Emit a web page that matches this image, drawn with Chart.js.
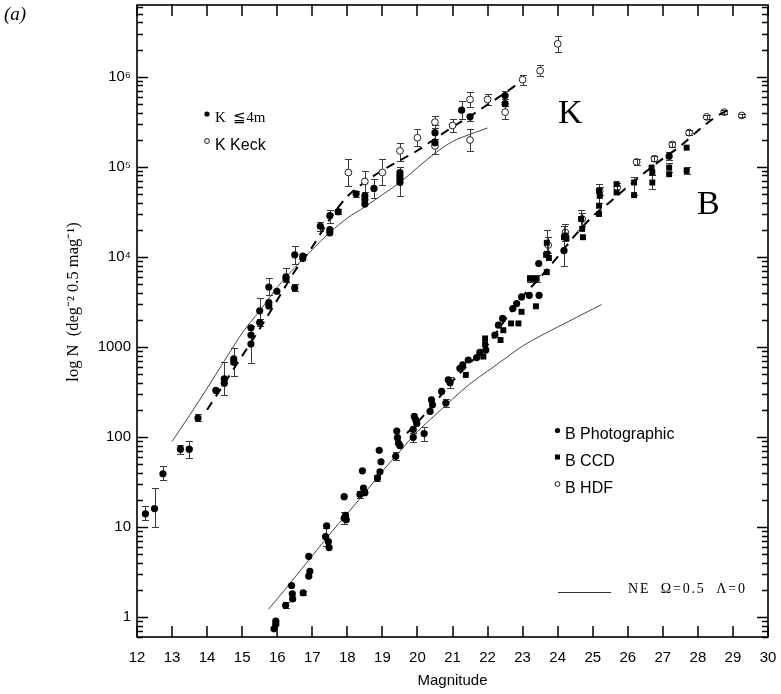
<!DOCTYPE html>
<html><head><meta charset="utf-8">
<script src="https://cdn.jsdelivr.net/npm/chart.js@4"></script>
<style>html,body{margin:0;padding:0;background:#fff;}#wrap{width:781px;height:694px;}</style>
</head><body><div id="wrap"><canvas id="c" width="781" height="694"></canvas></div>
<script>
// ---- tick labels ----
const xTickLabels = [12,13,14,15,16,17,18,19,20,21,22,23,24,25,26,27,28,29,30];
const yTickValues = [1,10,100,1000,1e4,1e5,1e6];
const yTickLabels = ['1','10','100','1000','10\u2074','10\u2075','10\u2076'];

// ---- K <= 4m (filled circles) ----
const kMag = [12.24,12.5,12.74,13.24,13.49,13.74,14.25,14.49,14.49,14.76,14.76,15.25,15.25,15.25,15.5,15.5,15.76,15.76,15.76,15.99,16.25,16.25,16.5,16.5,16.73,16.73,17.23,17.5,17.5,17.5,17.74,18.25,18.5,18.5,18.5,18.76,19.5,19.5,19.5,19.5,20.5,20.5,21.26,21.5,22.5,22.5];
const kN   = [14,16,39,73,73,162,328,395,441,734,676,1074,1350,1630,1863,2510,2850,3090,4620,4140,5710,6000,4510,10520,10180,9550,21800,20000,18400,28600,31700,50000,47600,43000,38500,57400,86300,79400,72800,66800,239000,185000,425000,358000,617000,502000];
const kLo  = [12,9.9,33,65,59,151,null,293,null,480,null,660,null,null,1700,1900,null,null,3730,null,5250,null,4140,8330,null,null,19500,null,null,24000,29500,46000,null,null,null,44600,null,null,47200,null,205000,null,335000,321000,560000,null];
const kHi  = [17,27,48,82,91,181,null,676,null,962,null,1683,null,null,2050,3500,null,null,5820,null,7550,null,4940,13300,null,null,24500,null,null,33000,34000,54000,null,null,null,74000,null,null,100000,null,288000,null,533000,390000,700000,null];

// ---- K Keck (open circles) ----
const kkMag = [18.03,18.5,19.0,19.5,20.0,20.5,20.5,21.0,21.5,21.5,22.0,22.5,23.0,23.5,24.0];
const kkN   = [86300,68600,86300,150000,210000,313000,170000,287000,557000,198000,557000,404000,927000,1164000,2317000];
const kkLo  = [61400,51900,62500,116000,170000,271000,140000,243000,462000,150000,490000,335000,816000,1026000,1875000];
const kkHi  = [123000,90000,121000,185000,260000,364000,205000,341000,671000,260000,649000,470000,1052000,1333000,2838000];

// ---- B Photographic (filled circles) ----
const bpMag = [15.91,15.96,15.96,16.24,16.41,16.43,16.44,16.74,16.9,16.93,16.9,17.38,17.41,17.46,17.48,17.91,17.91,17.95,17.97,18.36,18.43,18.46,18.5,18.86,18.91,18.93,18.96,19.38,19.41,19.43,19.46,19.5,19.88,19.88,19.91,19.95,19.98,20.19,20.36,20.4,20.43,20.69,20.81,20.88,20.93,21.21,21.29,21.45,21.69,21.78,21.95,22.21,22.31,22.43,22.72,22.83,22.97,23.19,23.47,23.46,24.18,27.18];
const bpN   = [0.74,0.83,0.90,1.35,2.24,1.81,1.59,1.86,2.84,3.22,4.72,7.8,10.3,6.86,5.9,21.7,12.5,13.5,12.0,23,42,27,24,35,71,41,53,61,116,98,85,80,99,121,169,155,141,109,192,258,227,320,238,430,400,578,630,714,760,870,920,1350,1740,2070,2660,3020,3580,3730,3730,8400,11700,131000];
const bpLo  = [null,null,null,1.25,null,null,null,1.75,null,null,null,6.2,null,null,null,null,10.8,null,null,21,null,null,null,32,null,null,null,55,null,null,null,null,87,null,null,null,null,90,null,null,null,null,215,null,350,null,null,null,null,null,null,null,null,null,null,null,null,null,null,null,null,118000];
const bpHi  = [null,null,null,1.45,null,null,null,1.97,null,null,null,9.8,null,null,null,null,14.6,null,null,25,null,null,null,38,null,null,null,68,null,null,null,null,110,null,null,null,null,130,null,null,null,null,262,null,460,null,null,null,null,null,null,null,null,null,null,null,null,null,null,null,null,146000];

// ---- B CCD (filled squares) ----
const bcMag = [21.38,21.88,21.93,21.93,22.37,22.45,22.67,22.88,22.97,23.21,23.3,23.4,23.38,23.69,23.67,23.69,23.7,23.75,24.18,24.22,24.25,24.67,24.7,24.72,25.18,25.2,25.18,25.18,25.68,25.68,26.18,26.18,26.68,26.7,26.7,27.18,27.18,27.68,27.68];
const bcN   = [488,780,1070,1240,1190,1530,1820,1820,2450,5710,5710,5710,2820,6760,10500,14300,10800,9700,16500,17200,16100,26300,20400,16500,54000,47500,36900,29900,64100,51800,66800,48400,97800,86300,66800,97800,82600,163000,90000];
const bcLo  = [null,null,null,null,null,null,null,null,null,5200,null,5200,null,null,null,11200,null,null,8000,null,null,20000,null,null,40000,null,null,null,null,null,48000,null,null,null,56000,88000,null,null,82000];
const bcHi  = [null,null,null,null,null,null,null,null,null,6300,null,6300,null,null,null,20000,null,null,22200,null,null,33000,null,null,64000,null,null,null,null,null,76000,null,null,null,80000,110000,null,null,99000];

// ---- B HDF (open circles) ----
const bhMag = [23.73,24.22,24.7,25.2,25.7,26.25,26.76,27.27,27.75,28.25,28.75,29.25];
const bhN   = [13500,18600,26300,54000,59000,113000,123000,177000,239000,358000,404000,371000];
const bhLo  = [11000,15000,22000,48000,52000,105000,115000,165000,225000,340000,385000,355000];
const bhHi  = [16500,23000,31000,60000,66000,122000,132000,190000,255000,376000,425000,388000];

// ---- model curves ----
const kDashMag = [14,14.5,15,15.5,16,16.5,17,17.5,18,18.5,19,19.5,20,20.5,21,21.5,22,22.5,23];
const kDashN   = [200,398,794,1585,3311,6918,12882,26303,46774,67608,91201,117490,151356,204174,275423,363078,489779,660693,912011];
const kSolidMag = [13,13.5,14,14.5,15.05,15.5,16,16.5,17,17.5,18,18.5,19,19.5,20,20.5,21,21.5,22];
const kSolidN   = [89,174,347,708,1514,2512,4571,7586,12023,18621,26915,35892,48978,66834,97724,141254,190546,229087,269153];
const bDashMag = [19.7,20,20.5,21,21.5,22,22.5,23,23.5,24,24.5,25,25.5,26,26.5,27,27.5,28,28.5,29];
const bDashN   = [110,145,240,417,661,1047,1995,3631,5888,10000,17378,28184,40738,60256,87096,123027,169824,251189,354813,457088];
const bSolidMag = [15.75,16,16.5,17,17.5,18,18.5,19,19.5,20,20.5,21,21.5,22,22.5,23,23.5,24,24.5,25,25.25];
const bSolidN   = [1.22,1.585,2.754,4.786,8.318,14.13,23.99,41.69,69.18,114.8,173.8,263.0,389.0,537.0,741.3,1023,1318,1660,2089,2630,2951];

const pts = (xs, ys) => xs.map((v, i) => ({x: v, y: ys[i]}));
const SANS = '"Liberation Sans", Arial, sans-serif';
const SERIF = '"Liberation Serif", "Times New Roman", serif';

const lineDs = (xs, ys, dash, w, col) => ({
  type: 'scatter', data: pts(xs, ys), showLine: true, borderColor: col, borderWidth: w,
  borderDash: dash, pointRadius: 0, fill: false, cubicInterpolationMode: 'monotone'
});

const datasets = [
  {label: 'K \u22664m', data: pts(kMag, kN), errLo: kLo, errHi: kHi, pointStyle: 'circle', pointRadius: 3.6, backgroundColor: '#000', borderColor: '#000', borderWidth: 0},
  {label: 'K Keck', data: pts(kkMag, kkN), errLo: kkLo, errHi: kkHi, pointStyle: 'circle', pointRadius: 3.4, backgroundColor: '#fff', borderColor: '#222', borderWidth: 1},
  {label: 'B Photographic', data: pts(bpMag, bpN), errLo: bpLo, errHi: bpHi, pointStyle: 'circle', pointRadius: 3.6, backgroundColor: '#000', borderColor: '#000', borderWidth: 0},
  {label: 'B CCD', data: pts(bcMag, bcN), errLo: bcLo, errHi: bcHi, pointStyle: 'rect', pointRadius: 4.2, backgroundColor: '#000', borderColor: '#000', borderWidth: 0},
  {label: 'B HDF', data: pts(bhMag, bhN), errLo: bhLo, errHi: bhHi, pointStyle: 'circle', pointRadius: 3.4, backgroundColor: 'rgba(255,255,255,0)', borderColor: '#222', borderWidth: 1},
  Object.assign(lineDs(kDashMag, kDashN, [9, 7], 2, '#000'), {label: 'K fit'}),
  Object.assign(lineDs(kSolidMag, kSolidN, [], 1, '#444'), {label: 'K NE'}),
  Object.assign(lineDs(bDashMag, bDashN, [9, 7], 2, '#000'), {label: 'B fit'}),
  Object.assign(lineDs(bSolidMag, bSolidN, [], 1, '#444'), {label: 'B NE'})
];

const annot = {
  id: 'annot',
  beforeDatasetsDraw(chart) {
    const {ctx, scales: {x, y}} = chart;
    ctx.save();
    ctx.strokeStyle = '#3a3a3a'; ctx.lineWidth = 1;
    chart.data.datasets.forEach(ds => {
      if (!ds.errLo) return;
      ds.data.forEach((p, i) => {
        const lo = ds.errLo[i], hi = ds.errHi[i];
        if (lo == null || hi == null) return;
        const px = Math.round(x.getPixelForValue(p.x)) + 0.5;
        const y1 = Math.round(y.getPixelForValue(lo)) + 0.5, y2 = Math.round(y.getPixelForValue(hi)) + 0.5;
        ctx.beginPath();
        ctx.moveTo(px, y1); ctx.lineTo(px, y2);
        ctx.moveTo(px - 3.5, y1); ctx.lineTo(px + 3.5, y1);
        ctx.moveTo(px - 3.5, y2); ctx.lineTo(px + 3.5, y2);
        ctx.stroke();
      });
    });
    ctx.restore();
  },
  afterDraw(chart) {
    const {ctx, chartArea: a, scales: {x, y}} = chart;
    ctx.save();
    // frame
    ctx.strokeStyle = '#000'; ctx.lineWidth = 1.6;
    ctx.strokeRect(a.left, a.top, a.right - a.left, a.bottom - a.top);
    // x ticks (inward, top and bottom)
    ctx.lineWidth = 1.5;
    ctx.beginPath();
    xTickLabels.forEach(v => {
      const px = Math.round(x.getPixelForValue(v));
      ctx.moveTo(px, a.bottom); ctx.lineTo(px, a.bottom - 11);
      ctx.moveTo(px, a.top); ctx.lineTo(px, a.top + 11);
    });
    // y ticks (inward, left and right), major + minor
    for (let e = -1; e <= 6; e++) {
      for (let m = 1; m <= 9; m++) {
        const v = m * Math.pow(10, e);
        if (v < y.min || v > y.max) continue;
        const py = Math.round(y.getPixelForValue(v)) + 0.5;
        const len = m === 1 ? 11 : 6;
        ctx.moveTo(a.left, py); ctx.lineTo(a.left + len, py);
        ctx.moveTo(a.right, py); ctx.lineTo(a.right - len, py);
      }
    }
    ctx.stroke();

    ctx.fillStyle = '#000';
    // panel label
    ctx.font = 'italic 19px ' + SERIF;
    ctx.textAlign = 'left'; ctx.textBaseline = 'alphabetic';
    ctx.fillText('(a)', 4, 20);
    // y title
    ctx.save();
    ctx.translate(74, 302); ctx.rotate(-Math.PI / 2);
    ctx.textAlign = 'center'; ctx.textBaseline = 'middle';
    ctx.font = '16.5px ' + SERIF;
    ctx.fillText('log N  (deg\u207B\u00B2 0.5 mag\u207B\u00B9)', 0, 0);
    ctx.restore();
    // big labels
    ctx.font = '34px ' + SERIF;
    ctx.fillText('K', 558, 123);
    ctx.fillText('B', 697, 214);
    // K legend
    ctx.beginPath(); ctx.arc(207, 114, 2.6, 0, 2 * Math.PI); ctx.fill();
    ctx.font = '15px ' + SERIF;
    ctx.fillText('K  \u22664m', 215, 122);
    ctx.beginPath(); ctx.arc(207, 141, 2.4, 0, 2 * Math.PI); ctx.lineWidth = 0.9; ctx.stroke();
    ctx.font = '16px ' + SANS;
    ctx.fillText('K Keck', 215, 150);
    // B legend
    ctx.beginPath(); ctx.arc(557.5, 430.5, 2.6, 0, 2 * Math.PI); ctx.fill();
    ctx.fillText('B Photographic', 565, 439);
    ctx.fillRect(555, 454.5, 5, 5);
    ctx.fillText('B CCD', 565, 466);
    ctx.beginPath(); ctx.arc(557.5, 484, 2.4, 0, 2 * Math.PI); ctx.stroke();
    ctx.fillText('B HDF', 565, 493);
    // NE model legend
    ctx.strokeStyle = '#333'; ctx.lineWidth = 1;
    ctx.beginPath(); ctx.moveTo(558, 592.5); ctx.lineTo(611, 592.5); ctx.stroke();
    ctx.font = '14px ' + SERIF;
    ctx.letterSpacing = '1.8px';
    ctx.fillText('NE  \u03A9=0.5  \u039B=0', 628, 593);
    ctx.restore();
  }
};

new Chart(document.getElementById('c'), {
  type: 'scatter',
  data: {datasets},
  options: {
    responsive: false, animation: false, devicePixelRatio: 1,
    layout: {padding: {left: 0, right: 13, top: 5, bottom: 0}},
    plugins: {legend: {display: false}, tooltip: {enabled: false}},
    scales: {
      x: {
        type: 'linear', min: 12, max: 30,
        border: {display: false},
        grid: {display: false, drawTicks: false},
        ticks: {font: {family: SANS, size: 15}, color: '#000', padding: 12, autoSkip: false, maxRotation: 0},
        title: {display: true, text: 'Magnitude', font: {family: SANS, size: 15}, color: '#000', padding: {top: 0, bottom: 4}},
        afterBuildTicks: s => { s.ticks = xTickLabels.map(v => ({value: v})); },
        afterFit: s => { s.height = 57; s.paddingLeft = 0; s.paddingRight = 0; }
      },
      y: {
        type: 'logarithmic', min: 0.649, max: 6.25e6,
        border: {display: false},
        grid: {display: false, drawTicks: false},
        ticks: {font: {family: SANS, size: 15}, color: '#000', padding: 6, autoSkip: false,
          callback: v => { const i = yTickValues.indexOf(v); return i >= 0 ? yTickLabels[i] : ''; }},
        afterBuildTicks: s => { s.ticks = yTickValues.map(v => ({value: v})); },
        afterFit: s => { s.width = 137; s.paddingTop = 0; s.paddingBottom = 0; }
      }
    }
  },
  plugins: [annot]
});
</script></body></html>
